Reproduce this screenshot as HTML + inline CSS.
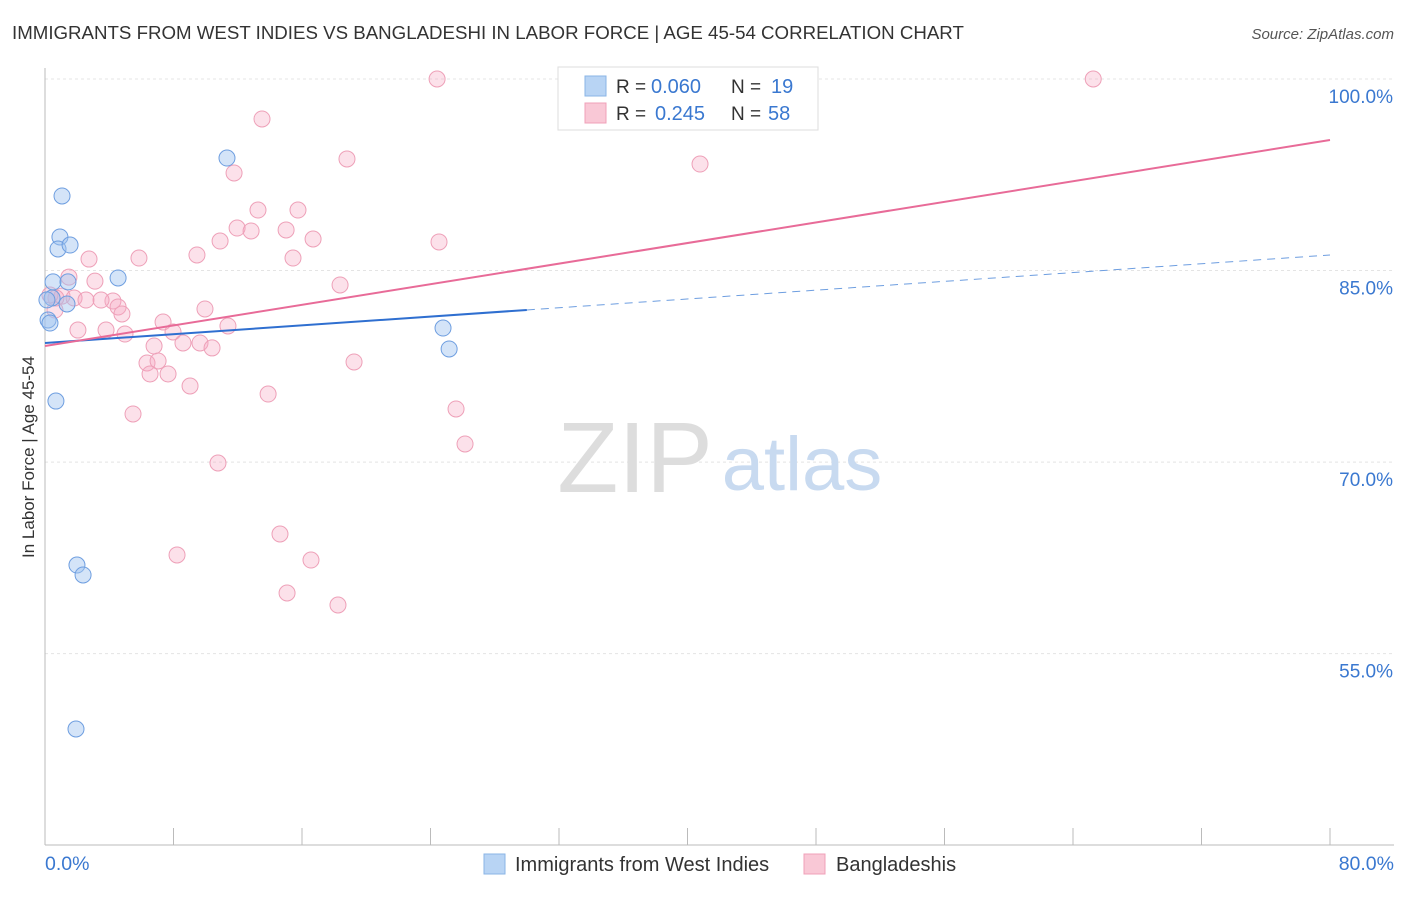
<!DOCTYPE html>
<html><head><meta charset="utf-8"><style>
body{margin:0;background:#fff;font-family:"Liberation Sans",sans-serif;}
svg text{font-family:"Liberation Sans",sans-serif;}
</style></head><body>
<svg id="chart" width="1406" height="892" viewBox="0 0 1406 892" xmlns="http://www.w3.org/2000/svg">
<text x="12" y="39" font-size="18.7" fill="#333">IMMIGRANTS FROM WEST INDIES VS BANGLADESHI IN LABOR FORCE | AGE 45-54 CORRELATION CHART</text>
<text x="1394" y="39" font-size="15" fill="#555" text-anchor="end" font-style="italic">Source: ZipAtlas.com</text>
<g id="grid"></g>
<g id="axes">
<line x1="45" y1="68" x2="45" y2="845" stroke="#bbb"/>
<line x1="45" y1="845" x2="1394" y2="845" stroke="#bbb"/>
</g>
<g>
<text x="635" y="492" font-size="100" fill="#ddd" font-family="Liberation Serif" text-anchor="middle">ZIP</text>
<text x="802" y="490" font-size="76" fill="#c8daf0" text-anchor="middle">atlas</text>
</g>
<g id="points"></g>
<g id="lines"></g>
<text transform="translate(34,457) rotate(-90)" font-size="17" fill="#333" text-anchor="middle">In Labor Force | Age 45-54</text>
<text x="45" y="870" font-size="19.5" fill="#3a78d0">0.0%</text>
<text x="1394" y="870" font-size="19.5" fill="#3a78d0" text-anchor="end">80.0%</text>
<g>
<rect x="558" y="67" width="260" height="63" fill="#fff" stroke="#ddd"/>
<rect x="585" y="76" width="21" height="20" fill="#b8d4f4" stroke="#8ab4e6"/>
<rect x="585" y="103" width="21" height="20" fill="#f9c8d6" stroke="#f0a0b8"/>
<text x="616" y="93" font-size="19" fill="#333">R =</text>
<text x="651" y="93" font-size="20" fill="#3a78d0">0.060</text>
<text x="731" y="93" font-size="19" fill="#333">N =</text>
<text x="771" y="93" font-size="20" fill="#3a78d0">19</text>
<text x="616" y="120" font-size="19" fill="#333">R =</text>
<text x="655" y="120" font-size="20" fill="#3a78d0">0.245</text>
<text x="731" y="120" font-size="19" fill="#333">N =</text>
<text x="768" y="120" font-size="20" fill="#3a78d0">58</text>
</g>
<g>
<rect x="484" y="854" width="21" height="20" fill="#b8d4f4" stroke="#8ab4e6"/>
<text x="515" y="871" font-size="20" fill="#333">Immigrants from West Indies</text>
</g>
<g>
<rect x="804" y="854" width="21" height="20" fill="#f9c8d6" stroke="#f0a0b8"/>
<text x="836" y="871" font-size="20" fill="#333">Bangladeshis</text>
</g>
</svg>
<script>
const yTicks=[100,85,70,55];
const yTickLabels=["100.0%","85.0%","70.0%","55.0%"];
const xTicks=[0,8,16,24,32,40,48,56,64,72,80];
const blueX=[1.06,11.33,0.93,0.81,1.56,4.55,0.50,1.43,0.44,1.37,0.19,0.31,0.68,1.99,2.37,1.93,24.78,25.16,0.12];
const blueY=[90.84,93.81,87.63,86.69,87.0,84.42,84.11,84.11,82.85,82.38,81.13,80.89,74.78,61.94,61.16,49.1,80.5,78.86,82.7];
const pinkX=[24.41,65.26,13.51,18.8,40.78,11.77,13.26,15.75,11.96,12.83,15.01,16.69,10.9,24.53,5.85,2.74,9.46,15.44,1.49,3.11,18.37,1.06,1.81,0.68,2.55,4.23,3.49,4.55,9.96,4.79,0.62,7.35,11.39,2.05,3.8,4.98,7.97,6.79,8.59,9.65,10.4,6.35,7.04,19.24,6.54,7.66,9.03,13.89,5.48,25.59,26.15,10.77,14.63,8.22,16.56,15.07,18.24,0.31];
const pinkY=[100,100,96.87,93.74,93.34,92.64,89.74,89.74,88.33,88.1,88.18,87.47,87.31,87.24,85.98,85.9,86.22,85.98,84.49,84.17,83.87,83.0,82.85,82.85,82.69,82.62,82.69,82.15,81.99,81.6,81.91,80.97,80.66,80.34,80.34,80.03,80.19,79.09,79.33,79.33,78.94,77.76,77.92,77.84,76.9,76.9,75.96,75.33,73.77,74.16,71.42,69.93,64.37,62.73,62.33,59.75,58.81,83.09];
const blueTrend=[79.33,86.22];
const pinkTrend=[79.09,95.22];
const blueSolidEnd=30;

const NS="http://www.w3.org/2000/svg";
const xs=v=>45+v*(1285/80);
const ys=v=>79+(100-v)*12.77;
function mk(tag,attrs,parent){const e=document.createElementNS(NS,tag);for(const k in attrs)e.setAttribute(k,attrs[k]);parent.appendChild(e);return e;}
const grid=document.getElementById('grid'),axes=document.getElementById('axes');
yTicks.forEach((t,i)=>{
  const l=mk('line',{x1:45,x2:1394,y1:ys(t),y2:ys(t),stroke:'#e4e4e4','stroke-dasharray':'3,3'},grid);
  
  
  const tx=mk('text',{x:1393,y:ys(t)+24,'font-size':19,fill:'#3a78d0','text-anchor':'end'},axes);
  tx.textContent=yTickLabels[i];
  
  
});
xTicks.forEach(t=>{
  const l=mk('line',{x1:xs(t),x2:xs(t),y1:828,y2:845,stroke:'#bbb'},axes);
  
  
});
const pts=document.getElementById('points');
pinkX.forEach((x,i)=>{
  const c=mk('circle',{cx:xs(x),cy:ys(pinkY[i]),r:8,fill:'rgba(246,170,195,0.35)',stroke:'#eea0b8','stroke-width':1},pts);
  
  
});
blueX.forEach((x,i)=>{
  const c=mk('circle',{cx:xs(x),cy:ys(blueY[i]),r:8,fill:'rgba(160,196,240,0.45)',stroke:'#6e9ee0','stroke-width':1},pts);
  
  
});
const lines=document.getElementById('lines');
const bAt=x=>blueTrend[0]+(blueTrend[1]-blueTrend[0])*x/80;
let l1=mk('line',{x1:xs(0),y1:ys(bAt(0)),x2:xs(blueSolidEnd),y2:ys(bAt(blueSolidEnd)),stroke:'#2f6fd0','stroke-width':2},lines);


let l2=mk('line',{x1:xs(blueSolidEnd),y1:ys(bAt(blueSolidEnd)),x2:xs(80),y2:ys(bAt(80)),stroke:'#6e9ee0','stroke-width':1,'stroke-dasharray':'8,6'},lines);


let l3=mk('line',{x1:xs(0),y1:ys(pinkTrend[0]),x2:xs(80),y2:ys(pinkTrend[1]),stroke:'#e86b98','stroke-width':2},lines);


</script>
</body></html>
